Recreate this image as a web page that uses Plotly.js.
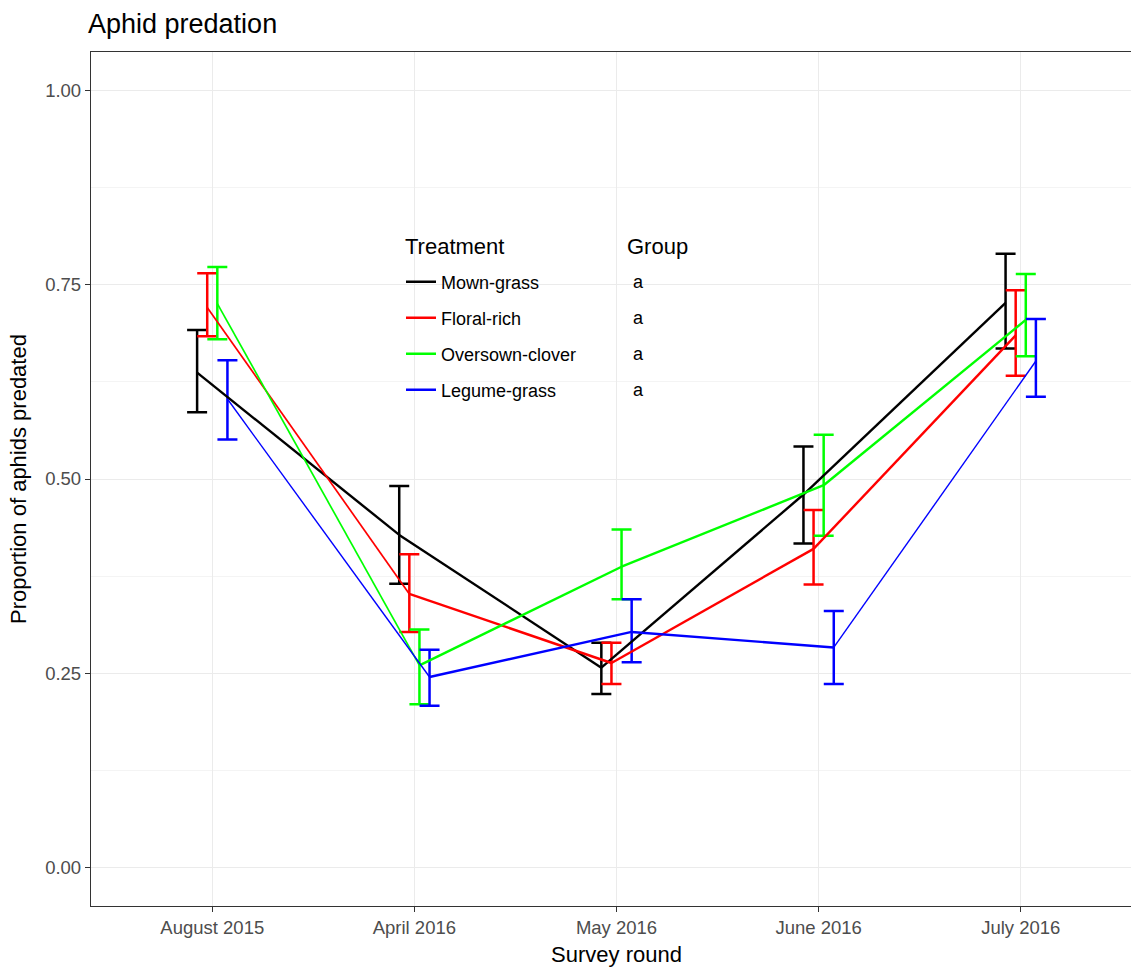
<!DOCTYPE html>
<html>
<head>
<meta charset="utf-8">
<script src="https://cdn.plot.ly/plotly-3.0.1.min.js"></script>
<style>
html, body { margin: 0; padding: 0; overflow: hidden; background: #fff; }
#chart { width: 1142px; height: 967px; }
</style>
</head>
<body>
<div id="chart"></div>
<script>
// ---- data ----
var months = ['August 2015', 'April 2016', 'May 2016', 'June 2016', 'July 2016'];
var treatments = ['Mown-grass', 'Floral-rich', 'Oversown-clover', 'Legume-grass'];
var groupLetters = ['a', 'a', 'a', 'a'];

var mownMean = [0.637, 0.428, 0.257, 0.480, 0.727];
var mownLow  = [0.586, 0.365, 0.223, 0.417, 0.668];
var mownHigh = [0.692, 0.491, 0.289, 0.542, 0.790];

var floralMean = [0.721, 0.352, 0.263, 0.410, 0.685];
var floralLow  = [0.684, 0.303, 0.236, 0.364, 0.633];
var floralHigh = [0.765, 0.403, 0.289, 0.460, 0.743];

var cloverMean = [0.726, 0.260, 0.387, 0.492, 0.705];
var cloverLow  = [0.680, 0.210, 0.345, 0.427, 0.658];
var cloverHigh = [0.773, 0.306, 0.435, 0.557, 0.764];

var legumeMean = [0.603, 0.245, 0.303, 0.283, 0.652];
var legumeLow  = [0.551, 0.208, 0.264, 0.236, 0.606];
var legumeHigh = [0.653, 0.280, 0.345, 0.330, 0.706];

// ---- styles ----
var colors = ['#000000', '#ff0000', '#00ff00', '#0000ff'];
var dodge = [-0.075, -0.025, 0.025, 0.075];
var segWidths = [
  [2.4, 2.4, 2.4, 2.4],
  [1.7, 2.4, 2.4, 2.4],
  [1.7, 2.4, 2.4, 2.4],
  [1.4, 2.4, 2.4, 1.4]
];
var legendIds = ['legend', 'legend2', 'legend3', 'legend4'];

var means = [mownMean, floralMean, cloverMean, legumeMean];
var lows = [mownLow, floralLow, cloverLow, legumeLow];
var highs = [mownHigh, floralHigh, cloverHigh, legumeHigh];

var traces = [];
var FONT = 'Liberation Sans, Arial, sans-serif';

// error bars first
treatments.forEach(function (name, s) {
  var xs = months.map(function (m, i) { return i + dodge[s]; });
  traces.push({
    type: 'scatter', mode: 'markers',
    x: xs, y: means[s],
    marker: { size: 1, opacity: 0, color: colors[s] },
    error_y: {
      type: 'data', symmetric: false,
      array: highs[s].map(function (h, i) { return h - means[s][i]; }),
      arrayminus: lows[s].map(function (l, i) { return means[s][i] - l; }),
      color: colors[s], thickness: 2.5, width: 10
    },
    name: name, legendgroup: name, showlegend: false, hoverinfo: 'skip'
  });
});

// line segments
treatments.forEach(function (name, s) {
  for (var i = 0; i < months.length - 1; i++) {
    traces.push({
      type: 'scatter', mode: 'lines',
      x: [i + dodge[s], i + 1 + dodge[s]],
      y: [means[s][i], means[s][i + 1]],
      line: { color: colors[s], width: segWidths[s][i] },
      name: name, legendgroup: name, showlegend: false
    });
  }
});

// legend entries (one legend per row for exact spacing)
treatments.forEach(function (name, s) {
  traces.push({
    type: 'scatter', mode: 'lines',
    x: [null], y: [null],
    line: { color: colors[s], width: 2.4 },
    name: name, legendgroup: name, showlegend: true,
    legend: legendIds[s]
  });
});

var W = 1142, H = 967;
var ml = 91, mr = 0, mt = 52, mb = 61;
var pw = W - ml - mr, ph = H - mt - mb;
function px(xpix) { return (xpix - ml) / pw; }
function py(ypix) { return (H - mb - ypix) / ph; }

var rowY = [282, 318, 354, 390];

var annotations = [];
annotations.push({
  xref: 'paper', yref: 'paper', x: px(403), y: py(246),
  xanchor: 'left', yanchor: 'middle', showarrow: false,
  text: 'Treatment', font: { family: FONT, size: 22, color: '#000' }
});
annotations.push({
  xref: 'paper', yref: 'paper', x: px(657), y: py(246),
  xanchor: 'center', yanchor: 'middle', showarrow: false,
  text: 'Group', font: { family: FONT, size: 22, color: '#000' }
});
groupLetters.forEach(function (g, i) {
  annotations.push({
    xref: 'paper', yref: 'paper', x: px(638), y: py(rowY[i]),
    xanchor: 'center', yanchor: 'middle', showarrow: false,
    text: g, font: { family: FONT, size: 18, color: '#000' }
  });
});

var layout = {
  width: W, height: H,
  margin: { l: ml, r: mr, t: mt, b: mb, pad: 0 },
  paper_bgcolor: '#ffffff', plot_bgcolor: '#ffffff',
  font: { family: FONT, size: 18, color: '#000' },
  title: {
    text: 'Aphid predation',
    font: { family: FONT, size: 27, color: '#000' },
    xref: 'container', x: 88 / W, xanchor: 'left',
    yref: 'container', y: 1 - 24 / H, yanchor: 'middle'
  },
  xaxis: {
    range: [-0.6, 4.6],
    tickmode: 'array', tickvals: months.map(function (m, i) { return i; }), ticktext: months,
    showgrid: true, gridcolor: '#ebebeb', gridwidth: 1.3,
    zeroline: false,
    showline: true, mirror: true, linecolor: '#333333', linewidth: 1.3,
    ticks: 'outside', ticklen: 5, tickwidth: 1.3, tickcolor: '#333333',
    tickfont: { family: FONT, size: 18.5, color: '#4d4d4d' },
    title: { text: 'Survey round', font: { family: FONT, size: 22, color: '#000' }, standoff: 9 }
  },
  yaxis: {
    range: [-0.05, 1.05],
    tickmode: 'array', tickvals: [0, 0.25, 0.5, 0.75, 1],
    ticktext: ['0.00', '0.25', '0.50', '0.75', '1.00'],
    showgrid: true, gridcolor: '#ebebeb', gridwidth: 1.3,
    minor: { tickmode: 'array', tickvals: [0.125, 0.375, 0.625, 0.875], showgrid: true, gridcolor: '#f4f4f4', gridwidth: 1, ticks: '' },
    zeroline: false,
    showline: true, mirror: true, linecolor: '#333333', linewidth: 1.3,
    ticks: 'outside', ticklen: 5, tickwidth: 1.3, tickcolor: '#333333',
    tickfont: { family: FONT, size: 18.5, color: '#4d4d4d' },
    title: { text: 'Proportion of aphids predated', font: { family: FONT, size: 22, color: '#000' }, standoff: 12 }
  },
  shapes: [{
    type: 'rect', xref: 'paper', yref: 'paper', layer: 'between',
    x0: px(391), x1: px(690), y0: py(410), y1: py(223),
    fillcolor: '#ffffff', line: { width: 0 }
  }],
  showlegend: true,
  annotations: annotations
};

legendIds.forEach(function (id, s) {
  layout[id] = {
    x: px(401), y: py(rowY[s]), xanchor: 'left', yanchor: 'middle',
    bgcolor: 'rgba(255,255,255,0)', borderwidth: 0,
    font: { family: FONT, size: 18, color: '#000' }
  };
});

Plotly.newPlot('chart', traces, layout, { displayModeBar: false });
</script>
</body>
</html>
